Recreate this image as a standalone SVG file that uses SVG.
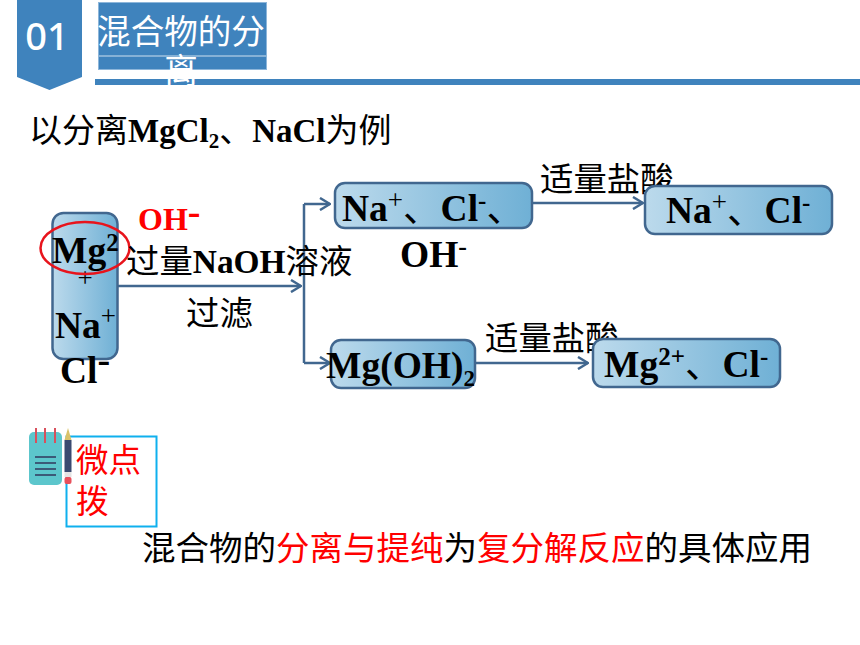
<svg xmlns="http://www.w3.org/2000/svg" width="860" height="645" viewBox="0 0 860 645">
<style>
text{font-family:"Liberation Serif","Noto Sans CJK SC",serif;fill:#000}
.b{font-weight:bold;font-size:37.500px}
.c{font-size:33.400px}
.z{font-weight:normal;font-size:37.500px}
.p{font-weight:normal;font-size:27px}
.box{fill:url(#g);stroke:#41678f;stroke-width:2.5}
.con{fill:none;stroke:#41678f;stroke-width:2.5}
.arr{fill:none;stroke:#41678f;stroke-width:2.5}
.h{font-family:"Noto Sans CJK SC",sans-serif;font-size:33.600px;fill:#fff}
.r{font-family:"Noto Sans CJK SC",sans-serif;font-size:32.500px;fill:#f00}
.rs{fill:#f00}
</style>
<defs>
<linearGradient id="g" x1="0" x2="1" y1="0" y2="0"><stop offset="0" stop-color="#bcdaec"/><stop offset="1" stop-color="#6fb0d5"/></linearGradient>
<marker id="a" viewBox="0 0 12 14" refX="11" refY="7" markerWidth="12" markerHeight="14" markerUnits="userSpaceOnUse" orient="auto"><path d="M1 1L11 7L1 13" fill="none" stroke="#41678f" stroke-width="2.500"/></marker>
</defs>
<g id="header">
<path d="M17 0H82V77L49.500 90L17 77Z" fill="#3f83bd"/>
<text x="47" y="50" text-anchor="middle" style="font-family:'Noto Sans','Liberation Sans',sans-serif;font-size:38px;font-weight:500;fill:#fff">01</text>
<rect x="95" y="79" width="765" height="6" fill="#3f83bd"/>
<rect x="98.500" y="2.500" width="168" height="67" fill="#3f83bd" stroke="#8db6da" stroke-width="1"/>
<line x1="99" y1="56" x2="266" y2="56" stroke="#cfe0ef" stroke-width="1"/>
<text class="h" x="181" y="44" text-anchor="middle">混合物的分</text>
<text class="h" x="181" y="83" text-anchor="middle">离</text>
</g>
<g id="title"><text x="29" y="142" style="font-size:33px"><tspan>以分离</tspan><tspan font-weight="bold">MgCl</tspan><tspan font-size="21" font-weight="bold" dy="6">2</tspan><tspan dy="-6">、</tspan><tspan font-weight="bold">NaCl</tspan><tspan>为例</tspan></text></g>
<g id="connectors">
<path class="arr" d="M118 286H301" marker-end="url(#a)"/>
<path class="con" d="M304 204V363"/>
<path class="arr" d="M304 204H330" marker-end="url(#a)"/>
<path class="arr" d="M304 363H330" marker-end="url(#a)"/>
<path class="arr" d="M532 203H643" marker-end="url(#a)"/>
<path class="arr" d="M475 363H588" marker-end="url(#a)"/>
</g>
<g id="label-acid1"><text class="c" x="540" y="191">适量盐酸</text></g>
<g id="label-acid2"><text class="c" x="485" y="350">适量盐酸</text></g>
<g id="node-left">
<rect class="box" x="52.500" y="213" width="65" height="146" rx="11"/>
<text class="b" x="52" y="263">Mg<tspan font-size="25" dy="-12">2</tspan></text>
<text x="85" y="287" text-anchor="middle" class="p">+</text>
<text class="b" x="55" y="338">Na<tspan class="p" dy="-13">+</tspan></text>
<text class="b" x="60" y="383">Cl<tspan font-size="38" dy="-11">-</tspan></text>
</g>
<g id="oh-red">
<text class="rs" x="138" y="230" style="font-size:32px;font-weight:bold;fill:#f00">OH<tspan font-size="38" dy="-6">-</tspan></text>
<ellipse cx="85" cy="248" rx="44.500" ry="26" fill="none" stroke="#e8141c" stroke-width="2.500"/>
</g>
<g id="label-naoh"><text x="126" y="273" style="font-size:33.400px"><tspan>过量</tspan><tspan font-weight="bold">NaOH</tspan><tspan>溶液</tspan></text></g>
<g id="label-filter"><text class="c" x="186" y="325">过滤</text></g>
<g id="node-na-cl-oh">
<rect class="box" x="335" y="183" width="197" height="45" rx="10"/>
<text class="b" x="342" y="221">Na<tspan class="p" dy="-12">+</tspan><tspan class="z" dy="12">、</tspan><tspan>Cl</tspan><tspan font-size="25" dy="-12">-</tspan><tspan class="z" dy="12">、</tspan></text>
<text class="b" x="400" y="267">OH<tspan font-size="26" dy="-12">-</tspan></text>
</g>
<g id="node-na-cl">
<rect class="box" x="645" y="186" width="187" height="48" rx="10"/>
<text class="b" x="666" y="223">Na<tspan class="p" dy="-12">+</tspan><tspan class="z" dy="12">、</tspan><tspan>Cl</tspan><tspan font-size="25" dy="-12">-</tspan></text>
</g>
<g id="node-mgoh">
<rect class="box" x="331" y="340" width="144" height="48" rx="10"/>
<text class="b" x="326" y="378">Mg(OH)<tspan font-size="23" dy="8">2</tspan></text>
</g>
<g id="node-mg-cl">
<rect class="box" x="593" y="339" width="187" height="48" rx="10"/>
<text class="b" x="604" y="377">Mg<tspan font-size="25" dy="-12">2+</tspan><tspan class="z" dy="12">、</tspan><tspan>Cl</tspan><tspan font-size="25" dy="-12">-</tspan></text>
</g>
<g id="tip">
<rect x="66.500" y="436.500" width="90" height="90" fill="#fff" stroke="#0fb0ee" stroke-width="2"/>
<rect x="29" y="432" width="33" height="53" rx="5" fill="#5cc6cc"/>
<path d="M36 428V443M45 428V443M55 428V443" stroke="#d8505c" stroke-width="2"/>
<path d="M35 457H56M35 463H56M35 469H56M35 475H56" stroke="#3b5a78" stroke-width="1.800"/>
<rect x="64.500" y="440" width="7" height="32" fill="#3a4a70"/>
<path d="M64.500 440L68 428L71.500 440Z" fill="#d9c26a"/>
<rect x="64.500" y="472" width="7" height="5" fill="#e4e4e4"/>
<rect x="64.500" y="477" width="7" height="7" rx="2" fill="#e8505c"/>
<text class="r" x="76" y="472">微点</text>
<text class="r" x="76" y="513">拨</text>
</g>
<g id="summary"><text x="142" y="560" style="font-size:33.500px">混合物的<tspan style="fill:#f00">分离与提纯</tspan>为<tspan style="fill:#f00">复分解反应</tspan>的具体应用</text></g>
</svg>
